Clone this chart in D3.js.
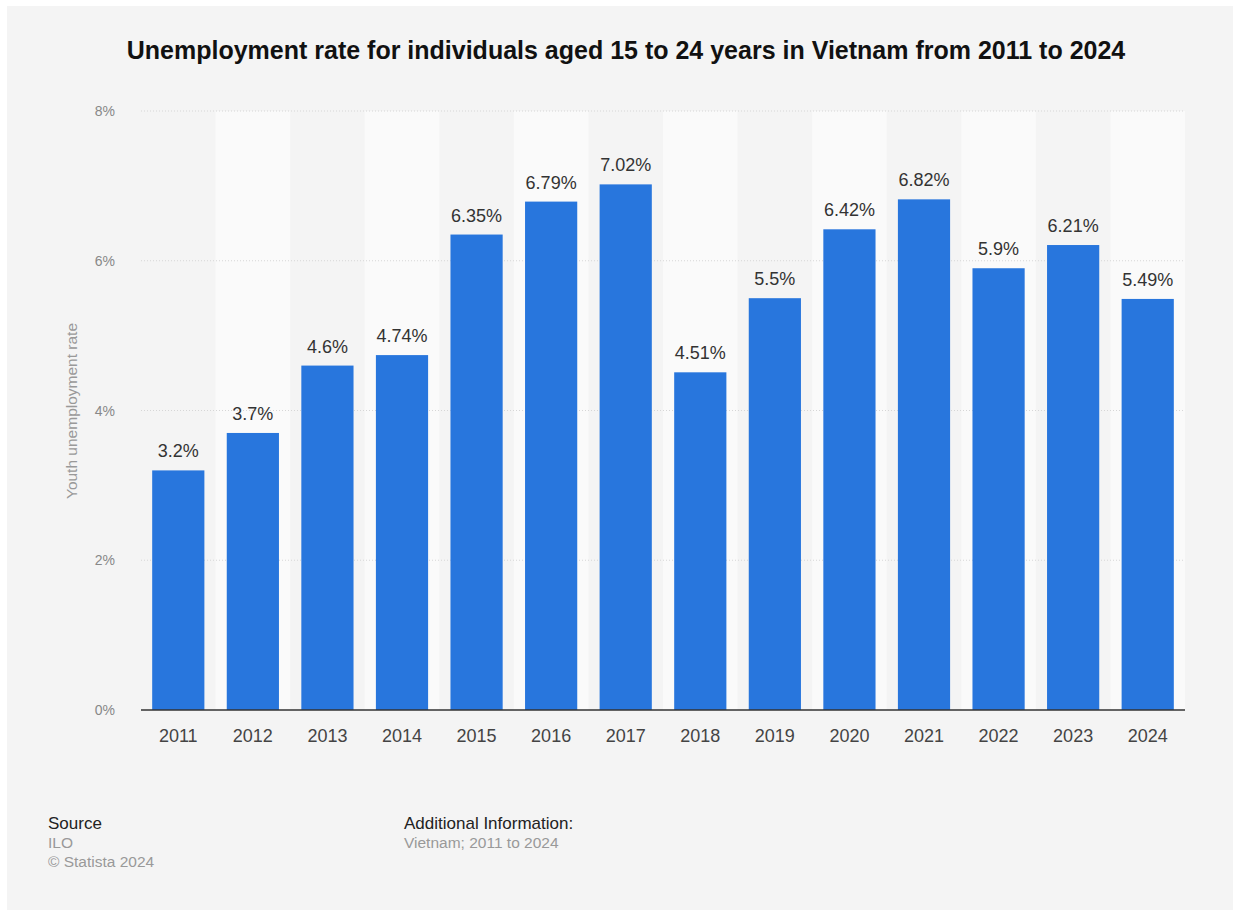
<!DOCTYPE html>
<html>
<head>
<meta charset="utf-8">
<script src="https://cdn.jsdelivr.net/npm/d3@7"></script>
<style>
  body { margin: 0; background: #fff; }
  text { font-family: "Liberation Sans", Arial, sans-serif; }
</style>
</head>
<body>
<svg id="chart" width="1236" height="913"></svg>
<script>
// data
const years = ["2011","2012","2013","2014","2015","2016","2017","2018","2019","2020","2021","2022","2023","2024"];
const rates = [3.2, 3.7, 4.6, 4.74, 6.35, 6.79, 7.02, 4.51, 5.5, 6.42, 6.82, 5.9, 6.21, 5.49];
const yTicks = [0, 2, 4, 6, 8];

const svg = d3.select("svg#chart");
const margin = {left: 141, right: 51, top: 111, bottom: 203};
const width = svg.attr("width") - margin.left - margin.right;
const height = svg.attr("height") - margin.top - margin.bottom;

// background panel
svg.append("rect")
   .attr("x", 7).attr("y", 6)
   .attr("width", 1226).attr("height", 904)
   .attr("fill", "#f4f4f4")

svg.append("text")
   .attr("x", 626).attr("y", 59)
   .attr("text-anchor", "middle")
   .attr("font-size", "25px").attr("font-weight", "bold")
   .attr("fill", "#111")
   .text("Unemployment rate for individuals aged 15 to 24 years in Vietnam from 2011 to 2024")

const plot = svg.append("g")
                .attr("transform", `translate(${margin.left},${margin.top})`)

// outer padding = half of inner, so each step fills width/n exactly
const x = d3.scaleBand().domain(years).range([0, width])
            .paddingInner(0.3).paddingOuter(0.15);
const y = d3.scaleLinear().domain([0, 8]).range([height, 0]);
const step = x.step();
const gap = (step - x.bandwidth()) / 2;

// alternating bands
plot.selectAll("rect.band").data(years.filter((d, i) => i % 2 == 1))
    .join("rect").attr("class", "band")
    .attr("x", d => x(d) - gap)
    .attr("y", 0)
    .attr("width", step)
    .attr("height", height)
    .attr("fill", "#fafafa")

// grid lines
plot.selectAll("line.grid").data(yTicks.filter(d => d > 0))
    .join("line").attr("class", "grid")
    .attr("x1", 0).attr("x2", width)
    .attr("y1", d => y(d)).attr("y2", d => y(d))
    .attr("stroke", "#d6d6d6").attr("stroke-dasharray", "1,2")

// y tick labels
plot.selectAll("text.ytick").data(yTicks)
    .join("text").attr("class", "ytick")
    .attr("x", -26).attr("y", d => y(d))
    .attr("dominant-baseline", "central").attr("text-anchor", "end")
    .attr("font-size", "14px").attr("fill", "#888")
    .text(d => d + "%")

// bars
plot.selectAll("rect.bar").data(rates)
    .join("rect").attr("class", "bar")
    .attr("x", (d, i) => x(years[i]))
    .attr("y", d => y(d))
    .attr("width", x.bandwidth())
    .attr("height", d => height - y(d))
    .attr("fill", "#2876dd")

// value labels
plot.selectAll("text.value").data(rates)
    .join("text").attr("class", "value")
    .attr("x", (d, i) => x(years[i]) + x.bandwidth() / 2)
    .attr("y", d => y(d) - 13)
    .attr("text-anchor", "middle")
    .attr("font-size", "18px").attr("fill", "#333")
    .text(d => d + "%")

// x axis line
plot.append("line")
    .attr("x1", 0).attr("x2", width)
    .attr("y1", height).attr("y2", height)
    .attr("stroke", "#333").attr("stroke-width", 1.5)

plot.selectAll("text.xtick").data(years)
    .join("text").attr("class", "xtick")
    .attr("x", d => x(d) + x.bandwidth() / 2)
    .attr("y", height + 32)
    .attr("text-anchor", "middle")
    .attr("font-size", "18px").attr("fill", "#444")
    .text(d => d)

// y axis title
svg.append("text")
   .attr("transform", "translate(77,411) rotate(-90)")
   .attr("text-anchor", "middle")
   .attr("font-size", "15.5px").attr("fill", "#999")
   .text("Youth unemployment rate")

// footer
const footer = svg.append("g")
footer.append("text").attr("x", 48).attr("y", 829)
      .attr("font-size", "17px").attr("fill", "#222").text("Source")
footer.append("text").attr("x", 48).attr("y", 848)
      .attr("font-size", "15.5px").attr("fill", "#999").text("ILO")
footer.append("text").attr("x", 48).attr("y", 867)
      .attr("font-size", "15.5px").attr("fill", "#999").text("© Statista 2024")
footer.append("text").attr("x", 404).attr("y", 829)
      .attr("font-size", "17px").attr("fill", "#222").text("Additional Information:")
footer.append("text").attr("x", 404).attr("y", 848)
      .attr("font-size", "15.5px").attr("fill", "#999").text("Vietnam; 2011 to 2024")
</script>
</body>
</html>
